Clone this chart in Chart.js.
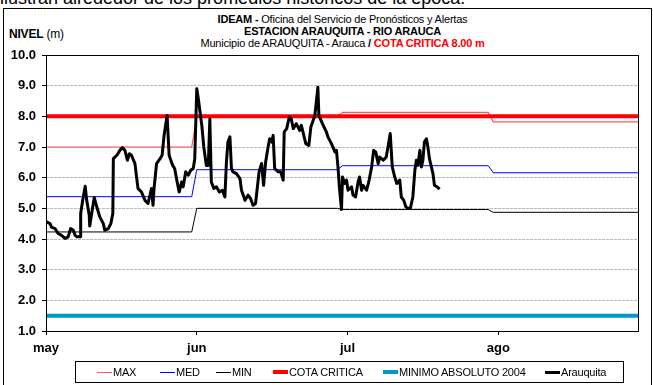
<!DOCTYPE html>
<html>
<head>
<meta charset="utf-8">
<script src="https://cdn.jsdelivr.net/npm/chart.js@4"></script>
<style>
  body { margin: 0; width: 653px; height: 385px; overflow: hidden; background: #fff; position: relative; font-family: 'Liberation Sans', Arial, sans-serif; }
  #wrap { position: absolute; left: 0; top: 0; width: 653px; height: 385px; }
  .narrow { font-family: 'Liberation Sans Narrow', 'Arial Narrow', 'Liberation Sans', sans-serif; letter-spacing: -0.2px; }
  #lead { position: absolute; left: 0; top: -11px; font-size: 18px; line-height: 18px; white-space: nowrap; }
  #frame { position: absolute; left: 3px; top: 8px; width: 647px; height: 390px; border: 1px solid #000; }
  .ttl { position: absolute; left: 46px; width: 593px; text-align: center; font-size: 11px; line-height: 12px; white-space: nowrap; }
  #nivel { position: absolute; left: 9px; top: 27px; font-size: 12px; }
  #legend { position: absolute; left: 75px; top: 361px; width: 547px; height: 20px; border: 1px solid #000; font-size: 11px; }
  .li { position: absolute; top: 4px; line-height: 12px; white-space: nowrap; }
  .li i { display: inline-block; width: 15px; vertical-align: middle; margin-right: 1px; margin-top: -2px; }
</style>
</head>
<body>
<div id="lead">ilustran alrededor de los promedios históricos de la época.</div>
<div id="frame"></div>
<div class="ttl narrow" style="top:13px"><b>IDEAM - </b>Oficina del Servicio de Pronósticos y Alertas</div>
<div class="ttl narrow" style="top:25px"><b>ESTACION ARAUQUITA - RIO ARAUCA</b></div>
<div class="ttl narrow" style="top:37px">Municipio de ARAUQUITA - Arauca <b>/</b> <b style="color:#ff0000">COTA CRITICA 8.00 m</b></div>
<div id="nivel" class="narrow"><b>NIVEL</b> (m)</div>
<div id="wrap"><canvas id="nivelChart" width="653" height="385"></canvas></div>
<div id="legend" class="narrow"></div>
<script>
// Eje X en días desde el 1 de mayo (cada mes ocupa 30 días del eje)
const monthLabels = ['may', 'jun', 'jul', 'ago'];
const monthTicks = [0, 30, 60, 90];
const monthStarts = [0, 30, 59, 89];   // día en que cambia cada valor mensual
const lastDay = 118;

// Niveles históricos mensuales (m)
const nivelMax = [7.0, 8.0, 8.13, 7.82];
const nivelMed = [5.38, 6.26, 6.39, 6.16];
const nivelMin = [4.23, 5.0, 4.96, 4.87];
const cotaCritica = 8.0;
const minimoAbsoluto = 1.5;

const yTicks = [1, 2, 3, 4, 5, 6, 7, 8, 9, 10];

// Serie observada en la estación Arauquita
const diasArauquita = [
  0.0, 0.8, 1.1, 1.8, 2.4, 3.1, 3.8, 4.4, 4.9, 5.4, 5.8, 6.2, 6.8, 6.9, 7.3, 7.8, 8.1, 8.6, 8.7, 9.3,
  9.6, 10.1, 10.7, 11.4, 11.7, 12.4, 12.9, 13.3, 13.4, 14.1, 14.7, 15.2, 15.7, 16.2, 16.6, 17.0, 17.7, 18.3, 19.0, 19.7,
  20.3, 20.7, 21.0, 21.3, 21.5, 22.0, 22.7, 23.1, 23.5, 24.1, 24.5, 25.2, 25.6, 26.1, 26.5, 27.0, 27.3, 27.8, 28.3, 28.8,
  29.3, 29.6, 30.0, 30.3, 31.0, 31.4, 31.9, 32.3, 32.6, 32.9, 33.4, 33.9, 34.5, 35.1, 35.6, 35.9, 36.2, 36.6, 36.9, 37.2,
  37.9, 38.6, 38.9, 39.6, 40.2, 40.7, 41.2, 41.7, 42.4, 42.9, 43.3, 43.7, 44.2, 44.5, 44.9, 45.2, 45.5, 46.2, 46.7, 47.2,
  47.4, 47.9, 48.4, 48.8, 49.2, 49.8, 50.5, 50.8, 51.7, 52.3, 52.7, 53.5, 54.1, 54.3, 55.0, 55.8, 56.1, 56.8, 57.5, 57.8,
  58.1, 58.4, 58.8, 59.0, 59.4, 59.8, 60.1, 60.8, 61.1, 61.6, 62.1, 62.4, 62.8, 63.1, 63.8, 64.3, 64.8, 65.2, 65.6, 66.1,
  66.4, 67.1, 67.7, 68.1, 68.5, 68.9, 69.4, 69.8, 70.4, 70.7, 71.2, 71.6, 72.0, 72.5, 73.0, 73.4, 73.7, 74.0, 74.4, 74.7,
  75.0, 75.3, 75.7, 76.0, 76.3, 77.0, 77.3, 78.0, 78.3
];
const nivelArauquita = [
  4.57, 4.50, 4.39, 4.34, 4.18, 4.12, 4.02, 4.07, 4.34, 4.29, 4.12, 4.07, 4.07, 4.83, 5.26, 5.72, 5.26, 4.78, 4.42, 5.05,
  5.35, 5.05, 4.72, 4.50, 4.29, 4.34, 4.50, 4.83, 6.62, 6.73, 6.89, 6.98, 6.89, 6.57, 6.78, 6.73, 6.46, 5.65, 5.53, 5.26,
  5.16, 5.43, 5.65, 5.10, 5.65, 6.46, 6.62, 6.73, 7.38, 8.03, 6.73, 6.40, 6.30, 5.86, 5.53, 5.86, 5.70, 6.19, 6.08, 6.24,
  6.30, 6.62, 8.90, 8.58, 7.71, 7.00, 6.40, 6.40, 7.92, 5.86, 5.65, 5.70, 5.53, 5.59, 5.37, 6.51, 7.16, 7.33, 6.30, 6.19,
  6.13, 5.97, 5.59, 5.26, 5.43, 5.32, 5.10, 5.16, 6.19, 6.46, 5.75, 6.51, 7.00, 7.27, 7.16, 7.38, 6.30, 6.19, 6.19, 5.92,
  7.49, 7.60, 7.98, 7.92, 7.60, 7.76, 7.54, 7.71, 7.11, 7.05, 7.65, 8.03, 8.95, 8.03, 7.76, 7.49, 7.33, 7.11, 6.84, 6.89,
  6.35, 5.65, 4.96, 6.02, 5.81, 5.92, 5.59, 5.70, 5.43, 5.37, 5.86, 6.02, 5.59, 5.75, 5.59, 5.92, 6.35, 6.89, 6.84, 6.46,
  6.67, 6.57, 6.67, 7.05, 7.44, 6.35, 6.02, 5.81, 5.92, 5.37, 5.26, 5.05, 5.00, 5.00, 5.37, 6.24, 6.57, 6.40, 6.89, 6.35,
  6.57, 7.16, 7.27, 7.00, 6.62, 6.13, 5.75, 5.68, 5.62
];

// Convierte valores mensuales en una línea escalonada
function steps(values) {
  const pts = [];
  values.forEach((v, i) => {
    const from = i === 0 ? 0 : monthStarts[i];
    const to = i < values.length - 1 ? monthStarts[i + 1] - 1 : lastDay;
    pts.push({ x: from, y: v }, { x: to, y: v });
  });
  return pts;
}
const flat = v => [{ x: 0, y: v }, { x: lastDay, y: v }];
const arauquitaPts = diasArauquita.map((d, i) => ({ x: d, y: nivelArauquita[i] }));

const series = [
  { label: 'Arauquita', data: arauquitaPts, borderColor: '#000000', borderWidth: 3 },
  { label: 'COTA CRITICA', data: flat(cotaCritica), borderColor: '#ff0000', borderWidth: 4 },
  { label: 'MINIMO ABSOLUTO 2004', data: flat(minimoAbsoluto), borderColor: '#0099cc', borderWidth: 4 },
  { label: 'MIN', data: steps(nivelMin), borderColor: '#000000', borderWidth: 1 },
  { label: 'MED', data: steps(nivelMed), borderColor: '#0000ff', borderWidth: 1 },
  { label: 'MAX', data: steps(nivelMax), borderColor: '#ff5555', borderWidth: 1.2 }
];

// Marco negro del área de trazado
const plotFrame = {
  id: 'plotFrame',
  afterDatasetsDraw(chart) {
    const a = chart.chartArea, c = chart.ctx;
    c.save();
    c.strokeStyle = '#000';
    c.lineWidth = 1;
    c.strokeRect(Math.round(a.left) + 0.5, Math.round(a.top) + 0.5, Math.round(a.right - a.left) - 1, Math.round(a.bottom - a.top));
    c.restore();
  }
};

const tickFont = { family: "'Liberation Sans', Arial, sans-serif", size: 13, weight: 'bold' };

new Chart(document.getElementById('nivelChart'), {
  type: 'line',
  data: {
    datasets: series.map(s => Object.assign({
      pointRadius: 0, tension: 0, fill: false, borderJoinStyle: 'round'
    }, s))
  },
  options: {
    responsive: false,
    animation: false,
    devicePixelRatio: 1,
    layout: { padding: { top: 55, right: 14, left: 0, bottom: 0 } },
    plugins: { legend: { display: false }, tooltip: { enabled: false } },
    scales: {
      x: {
        type: 'linear', min: 0, max: lastDay,
        afterBuildTicks: s => { s.ticks = monthTicks.map(v => ({ value: v })); },
        afterFit: s => { s.height = 54; },
        ticks: { callback: v => monthLabels[monthTicks.indexOf(v)], font: tickFont, color: '#000', padding: 6, maxRotation: 0 },
        grid: { drawOnChartArea: false, tickLength: 4, tickColor: '#000' },
        border: { display: false }
      },
      y: {
        min: 1, max: 10,
        afterBuildTicks: s => { s.ticks = yTicks.map(v => ({ value: v })); },
        afterFit: s => { s.width = 46; },
        ticks: { callback: v => v.toFixed(1), font: tickFont, color: '#000', padding: 6 },
        grid: { color: '#b8b8b8', tickColor: '#000', tickLength: 4, tickBorderDash: [] },
        border: { display: false, dash: [3, 1] }
      }
    }
  },
  plugins: [plotFrame]
});

// Leyenda
const legendItems = [
  { label: 'MAX', color: '#ff5555', h: 1, left: 21 },
  { label: 'MED', color: '#0000ff', h: 1, left: 84 },
  { label: 'MIN', color: '#000000', h: 1, left: 140 },
  { label: 'COTA CRITICA', color: '#ff0000', h: 4, left: 197 },
  { label: 'MINIMO ABSOLUTO 2004', color: '#0099cc', h: 4, left: 307 },
  { label: 'Arauquita', color: '#000000', h: 3, left: 469 }
];
document.getElementById('legend').innerHTML = legendItems.map(it =>
  `<span class="li" style="left:${it.left}px"><i style="height:${it.h}px;background:${it.color}"></i>${it.label}</span>`
).join('');
</script>
</body>
</html>
